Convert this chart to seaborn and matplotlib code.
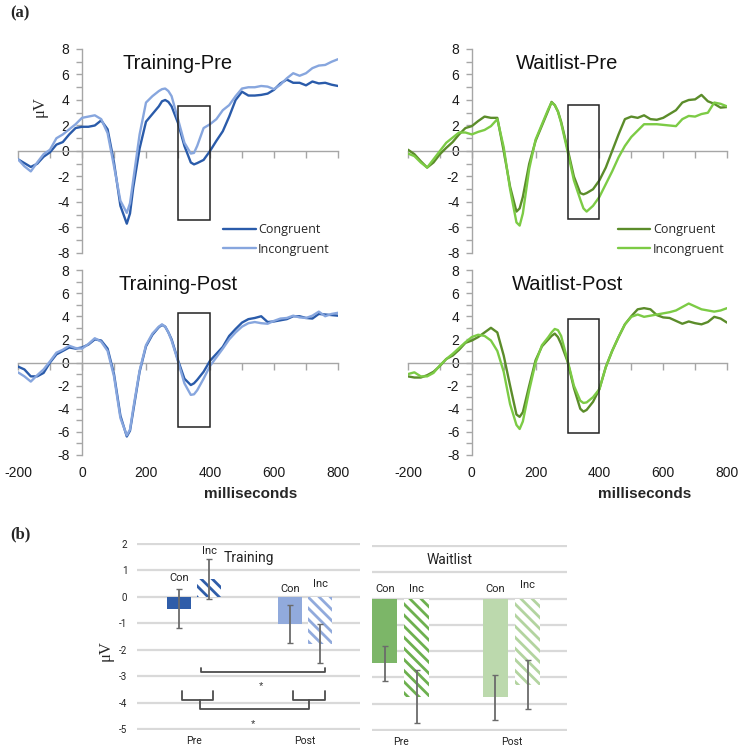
import matplotlib
matplotlib.use("Agg")
import matplotlib.pyplot as plt
from matplotlib.patches import Rectangle
from matplotlib.ticker import MultipleLocator
import pandas as pd
import seaborn as sns

sns.set_style("white")
plt.rcParams["font.family"] = ["Liberation Sans", "DejaVu Sans"]
plt.rcParams["axes.unicode_minus"] = False
plt.rcParams["hatch.linewidth"] = 2.0

# ---------------- data: ERP waveforms (µV) ----------------
TIME = [-200, -180, -160, -140, -120, -100, -80, -60, -40, -20, 0, 20, 40, 60, 80, 100, 120, 140,
        150, 160, 180, 200, 220, 240, 250, 260, 270, 280, 300, 320, 340, 350,
        360, 380, 400, 420, 440, 460, 480, 500, 520, 540, 560, 580, 600, 620, 640, 660, 680,
        700, 720, 740, 760, 780, 800]

TRAIN_PRE_CON = [-0.65, -0.95, -1.25, -1.0, -0.45, -0.1, 0.5, 0.7, 1.3, 1.8, 1.9, 1.9, 2.0, 2.4, 1.7, -0.9, -4.3, -5.7,
                 -4.9, -2.9, 0.2, 2.3, 2.9, 3.5, 3.9, 4.0, 3.85, 3.5, 2.2, 0.4, -0.9, -1.05,
                 -0.95, -0.7, 0.0, 0.8, 1.55, 2.7, 4.0, 4.65, 4.35, 4.35, 4.4, 4.5, 4.8, 5.3, 5.6, 5.35, 5.35,
                 5.15, 5.45, 5.3, 5.35, 5.2, 5.1]
TRAIN_PRE_INC = [-0.65, -1.2, -1.6, -0.9, -0.25, 0.1, 1.0, 1.3, 1.7, 2.1, 2.6, 2.7, 2.8, 2.5, 1.4, -1.2, -3.9, -4.85,
                 -4.1, -2.3, 1.3, 3.8, 4.3, 4.7, 4.85, 4.9, 4.7, 4.3, 2.5, 0.65, -0.2, -0.15,
                 0.4, 1.8, 2.1, 2.5, 3.2, 3.6, 4.3, 4.9, 5.0, 5.0, 5.1, 5.05, 4.85, 5.2, 5.7, 6.1, 5.9,
                 6.1, 6.5, 6.7, 6.75, 7.0, 7.2]
WAIT_PRE_CON = [0.1, -0.25, -0.8, -1.3, -0.9, -0.25, 0.25, 0.7, 1.3, 1.8, 1.95, 2.35, 2.7, 2.6, 2.6, 0.0, -2.8, -4.75,
                -4.5, -3.6, -1.0, 0.8, 2.0, 3.2, 3.85, 3.6, 3.1, 2.3, 0.2, -2.0, -3.3, -3.4,
                -3.3, -3.0, -2.3, -1.3, 0.0, 1.3, 2.5, 2.7, 2.6, 2.8, 2.5, 2.45, 2.6, 2.9, 3.2, 3.8, 4.0,
                4.05, 4.4, 3.9, 3.7, 3.4, 3.45]
WAIT_PRE_INC = [-0.2, -0.4, -0.9, -1.3, -0.65, 0.0, 0.65, 1.05, 1.45, 1.45, 1.3, 1.5, 1.65, 1.95, 2.5, 0.3, -3.0, -5.6,
                -5.85, -4.9, -1.4, 0.9, 2.1, 3.3, 3.8, 3.6, 3.1, 2.2, 0.0, -2.3, -3.8, -4.5,
                -4.75, -4.3, -3.6, -2.6, -1.6, -0.5, 0.4, 1.1, 1.6, 2.1, 2.1, 2.1, 2.05, 2.0, 1.95, 2.5, 2.75,
                2.7, 2.9, 3.0, 3.8, 3.7, 3.5]
TRAIN_POST_CON = [-0.35, -0.6, -1.2, -1.2, -0.9, 0.0, 0.7, 1.0, 1.3, 1.2, 1.3, 1.55, 2.0, 1.9, 1.2, -1.0, -4.6, -6.4,
                  -5.9, -4.2, -0.8, 1.4, 2.4, 3.05, 3.25, 3.1, 2.6, 2.0, 0.2, -1.4, -1.95, -1.8,
                  -1.5, -0.8, 0.15, 0.75, 1.35, 2.3, 2.9, 3.45, 3.75, 3.85, 4.0, 3.5, 3.55, 3.65, 3.75, 4.0, 4.0,
                  3.85, 3.8, 4.2, 4.15, 4.1, 4.05]
TRAIN_POST_INC = [-0.85, -1.2, -1.65, -1.1, -0.6, 0.1, 0.85, 1.1, 1.45, 1.25, 1.2, 1.6, 2.1, 1.8, 1.0, -1.2, -4.8, -6.3,
                  -5.8, -4.0, -0.7, 1.5, 2.5, 3.1, 3.3, 3.1, 2.6, 1.9, 0.1, -1.8, -2.8, -2.75,
                  -2.4, -1.4, -0.3, 0.45, 1.2, 2.0, 2.6, 3.1, 3.4, 3.5, 3.4, 3.35, 3.6, 3.8, 3.85, 4.05, 3.9,
                  3.85, 4.05, 4.4, 4.0, 4.2, 4.3]
WAIT_POST_CON = [-1.2, -1.3, -1.3, -1.1, -0.8, -0.3, 0.3, 0.6, 1.1, 1.7, 1.9, 2.2, 2.6, 3.0, 2.6, 0.6, -2.0, -4.5,
                 -4.7, -4.3, -2.0, 0.2, 1.4, 2.0, 2.3, 2.5, 2.2, 1.6, 0.1, -2.2, -4.0, -4.25,
                 -4.1, -3.4, -2.3, -0.4, 1.0, 2.2, 3.3, 4.0, 4.6, 4.7, 4.6, 4.1, 3.9, 3.85, 3.6, 3.35, 3.55,
                 3.4, 3.3, 3.5, 3.95, 3.8, 3.45]
WAIT_POST_INC = [-1.0, -0.85, -1.2, -1.2, -0.9, -0.25, 0.3, 0.75, 1.25, 1.75, 2.2, 2.4, 2.3, 1.9, 1.0, -0.8, -3.6, -5.4,
                 -5.75, -5.1, -2.4, 0.0, 1.5, 2.2, 2.6, 2.9, 2.8, 2.3, 0.2, -2.0, -3.3, -3.5,
                 -3.45, -3.0, -2.3, -0.4, 1.0, 2.2, 3.3, 3.95, 4.15, 3.95, 4.05, 4.15, 4.25, 4.35, 4.5, 4.8, 5.1,
                 4.85, 4.6, 4.5, 4.4, 4.5, 4.7]

COND_NAMES = ["Congruent", "Incongruent"]
PANEL_TITLES = ["Training-Pre", "Waitlist-Pre", "Training-Post", "Waitlist-Post"]
BOX_START, BOX_END = 300, 400
BOX_TOP = [3.5, 3.6, 4.3, 3.8]
BOX_BOTTOM = [-5.4, -5.3, -5.6, -6.1]
X_TICKS = [-200, 0, 200, 400, 600, 800]

# ---------------- data: N2 amplitude bars ----------------
TIMEPOINTS = ["Pre", "Post"]
BAR_CONDS = ["Con", "Inc"]
TRAIN_CON = [-0.45, -1.02]
TRAIN_INC = [0.68, -1.77]
TRAIN_CON_ERR = [0.73, 0.73]
TRAIN_INC_ERR = [0.75, 0.75]
WAIT_CON = [-2.47, -3.76]
WAIT_INC = [-3.73, -3.27]
WAIT_CON_ERR = [0.68, 0.85]
WAIT_INC_ERR = [1.02, 0.95]
TRAIN_LABEL_Y = {"Con": [0.72, 0.30], "Inc": [1.74, 0.50]}
WAIT_LABEL_Y = {"Con": [0.38, 0.38], "Inc": [0.38, 0.50]}
BAR_YTICKS = [2, 1, 0, -1, -2, -3, -4, -5]

# ---------------- styles ----------------
BLUE_DARK, BLUE_LIGHT = "#2A5BAA", "#87A6DE"
GREEN_DARK, GREEN_LIGHT = "#5B8C2A", "#7CCB45"
AXIS_GRAY = "#A6A6A6"
TRAIN_BAR_COLORS = ["#2F5DA9", "#91AADC"]
WAIT_CON_COLORS = ["#7CB668", "#BCD9AD"]
WAIT_INC_COLORS = ["#6DB04F", "#B3D4A0"]

W, H = 740, 750
fig = plt.figure(figsize=(7.4, 7.5), dpi=100)


def px_axes(left, top, right, bottom):
    return fig.add_axes([left / W, 1 - bottom / H, (right - left) / W, (bottom - top) / H])


def wave_panel(ax, con, inc, palette, title, title_y, box_top, box_bot, xlabels, legend, leg_x):
    df = pd.DataFrame({"ms": TIME + TIME, "uv": con + inc,
                       "cond": [COND_NAMES[0]] * len(TIME) + [COND_NAMES[1]] * len(TIME)})
    sns.lineplot(data=df, x="ms", y="uv", hue="cond", hue_order=COND_NAMES, palette=palette,
                 linewidth=1.7, ax=ax, legend=legend, sort=False, zorder=3)
    ax.set_xlim(-200, 800)
    ax.set_ylim(-8, 8)
    ax.set_facecolor("none")
    for s in ("top", "right"):
        ax.spines[s].set_visible(False)
    ax.spines["left"].set_position(("data", 0))
    ax.spines["bottom"].set_position(("data", 0))
    for s in ("left", "bottom"):
        ax.spines[s].set_color(AXIS_GRAY)
        ax.spines[s].set_linewidth(1.0)
        ax.spines[s].set_zorder(1)
    ax.xaxis.set_major_locator(MultipleLocator(100))
    ax.yaxis.set_major_locator(MultipleLocator(2))
    ax.yaxis.set_minor_locator(MultipleLocator(1))
    ax.tick_params(axis="x", which="both", bottom=True, direction="out", length=5, width=1,
                   color=AXIS_GRAY, labelbottom=False)
    ax.tick_params(axis="y", which="both", left=True, direction="out", length=4, width=1,
                   color=AXIS_GRAY, labelsize=10, pad=5, labelcolor="#1a1a1a")
    ax.set_xlabel("")
    ax.set_ylabel("")
    ax.add_patch(Rectangle((BOX_START, box_bot), BOX_END - BOX_START, box_top - box_bot,
                           fill=False, edgecolor="#222222", lw=1.1, zorder=4))
    ax.text(0.5, title_y, title, transform=ax.transAxes, ha="center", va="center",
            fontsize=14.5, color="#111111")
    if xlabels:
        sec = ax.secondary_xaxis("bottom")
        sec.set_xticks(X_TICKS)
        sec.set_xticklabels([str(v) for v in X_TICKS])
        sec.tick_params(length=0, labelsize=10, pad=8, labelcolor="#1a1a1a")
        sec.spines["bottom"].set_visible(False)
    if legend:
        handles, labels = ax.get_legend_handles_labels()
        keep = [(h, l) for h, l in zip(handles, labels) if l in COND_NAMES]
        ax.legend([k[0] for k in keep], [k[1] for k in keep], loc="upper left",
                  bbox_to_anchor=(leg_x, 0.145), frameon=False, borderpad=0, borderaxespad=0,
                  handlelength=2.6, handletextpad=0.2, labelspacing=0.5,
                  prop={"family": "Open Sans", "size": 9})


ax_tp = px_axes(18, 49, 338, 253)
ax_wp = px_axes(408, 49, 727, 253)
ax_tpo = px_axes(18, 270, 338, 455)
ax_wpo = px_axes(408, 270, 727, 455)

wave_panel(ax_tp, TRAIN_PRE_CON, TRAIN_PRE_INC, [BLUE_DARK, BLUE_LIGHT], PANEL_TITLES[0], 0.931,
           BOX_TOP[0], BOX_BOTTOM[0], False, True, 0.641)
wave_panel(ax_wp, WAIT_PRE_CON, WAIT_PRE_INC, [GREEN_DARK, GREEN_LIGHT], PANEL_TITLES[1], 0.931,
           BOX_TOP[1], BOX_BOTTOM[1], False, True, 0.658)
wave_panel(ax_tpo, TRAIN_POST_CON, TRAIN_POST_INC, [BLUE_DARK, BLUE_LIGHT], PANEL_TITLES[2], 0.919,
           BOX_TOP[2], BOX_BOTTOM[2], True, False, 0)
wave_panel(ax_wpo, WAIT_POST_CON, WAIT_POST_INC, [GREEN_DARK, GREEN_LIGHT], PANEL_TITLES[3], 0.919,
           BOX_TOP[3], BOX_BOTTOM[3], True, False, 0)

fig.text(10 / W, 1 - 13 / H, "(a)", family="Liberation Serif", weight="bold", fontsize=12,
         ha="left", va="center")
fig.text(40 / W, 1 - 107 / H, "\u03bcV", family="Liberation Serif", fontsize=12, rotation=90,
         ha="center", va="center")
fig.text(251 / W, 1 - 494 / H, "milliseconds", weight="bold", fontsize=11, ha="center", va="center")
fig.text(645 / W, 1 - 494 / H, "milliseconds", weight="bold", fontsize=11, ha="center", va="center")

# ---------------- panel (b) ----------------
def bar_panel(ax, con, inc, con_err, inc_err, con_colors, inc_colors, width, gap, xlim,
              label_y, title, title_xy, show_y):
    df = pd.DataFrame({"time": TIMEPOINTS + TIMEPOINTS,
                       "cond": [BAR_CONDS[0]] * 2 + [BAR_CONDS[1]] * 2,
                       "uv": con + inc})
    sns.barplot(data=df, x="time", y="uv", hue="cond", order=TIMEPOINTS, hue_order=BAR_CONDS,
                width=width, gap=gap, errorbar=None, legend=False, ax=ax, zorder=3)
    vals = {"Con": (con, con_err), "Inc": (inc, inc_err)}
    for cont, cond in zip(ax.containers, BAR_CONDS):
        for i, patch in enumerate(cont.patches):
            if cond == "Con":
                patch.set_facecolor(con_colors[i])
                patch.set_edgecolor(con_colors[i])
                patch.set_linewidth(0)
            else:
                patch.set_facecolor("white")
                patch.set_edgecolor(inc_colors[i])
                patch.set_hatch("\\\\\\")
                patch.set_linewidth(0)
            xc = patch.get_x() + patch.get_width() / 2
            v, e = vals[cond][0][i], vals[cond][1][i]
            ax.errorbar([xc], [v], yerr=[e], fmt="none", ecolor="#6B6B6B", elinewidth=1.3,
                        capsize=2, capthick=1.0, zorder=5)
            ax.text(xc, label_y[cond][i], cond, ha="center", va="center", fontsize=8,
                    color="#222222", family="Roboto")
    ax.set_xlim(*xlim)
    ax.set_ylim(-5.05, 2.05)
    ax.set_yticks(BAR_YTICKS)
    ax.yaxis.grid(True, color="#D9D9D9", lw=1.6)
    ax.xaxis.grid(False)
    ax.set_axisbelow(True)
    for s in ax.spines.values():
        s.set_visible(False)
    ax.tick_params(axis="x", length=0, pad=4, labelsize=7.5, labelcolor="#222222")
    ax.tick_params(axis="y", length=0, pad=7, labelsize=7, labelcolor="#222222",
                   labelleft=show_y)
    for lab in ax.get_xticklabels() + ax.get_yticklabels():
        lab.set_family("Roboto")
    ax.set_xlabel("")
    ax.set_ylabel("")
    ax.text(title_xy[0], title_xy[1], title, ha="center", va="center", fontsize=10,
            color="#222222", family="Roboto")


ax_tb = px_axes(137, 542.7, 360, 730.3)
ax_wb = px_axes(372, 544.7, 567, 731.3)
bar_panel(ax_tb, TRAIN_CON, TRAIN_INC, TRAIN_CON_ERR, TRAIN_INC_ERR, TRAIN_BAR_COLORS,
          TRAIN_BAR_COLORS, 0.55, 0.21, (-0.514, 1.495), TRAIN_LABEL_Y, "Training", (0.49, 1.48), True)
bar_panel(ax_wb, WAIT_CON, WAIT_INC, WAIT_CON_ERR, WAIT_INC_ERR, WAIT_CON_COLORS,
          WAIT_INC_COLORS, 0.58, 0.22, (-0.262, 1.502), WAIT_LABEL_Y, "Waitlist", (0.44, 1.48), False)

# significance brackets (Training)
BR = "#4D4D4D"
ax_tb.plot([0.063, 0.063, 1.18, 1.18], [-2.70, -2.86, -2.86, -2.70], color=BR, lw=1.3, zorder=4)
ax_tb.plot([-0.105, -0.105, 0.168, 0.168], [-3.56, -3.92, -3.92, -3.56], color=BR, lw=1.3, zorder=4)
ax_tb.plot([0.895, 0.895, 1.18, 1.18], [-3.56, -3.92, -3.92, -3.56], color=BR, lw=1.3, zorder=4)
ax_tb.plot([0.054, 0.054, 1.039, 1.039], [-3.92, -4.24, -4.24, -3.92], color=BR, lw=1.3, zorder=4)
ax_tb.text(0.60, -3.36, "*", ha="center", va="center", fontsize=8, color="#333333")
ax_tb.text(0.534, -4.83, "*", ha="center", va="center", fontsize=8, color="#333333")

fig.text(10 / W, 1 - 534 / H, "(b)", family="Liberation Serif", weight="bold", fontsize=12,
         ha="left", va="center")
fig.text(106 / W, 1 - 651 / H, "\u03bcV", family="Liberation Serif", fontsize=12, rotation=90,
         ha="center", va="center")

fig.savefig("out.png", dpi=100, facecolor="white")
